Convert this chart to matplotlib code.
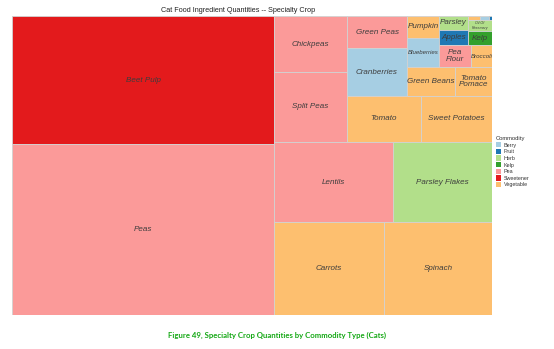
import matplotlib
matplotlib.use("Agg")
import matplotlib.pyplot as plt
from matplotlib.patches import Rectangle, Patch

# Ingredient quantities (arbitrary units) and commodity type
ingredients = ["Peas", "Beet Pulp", "Carrots", "Spinach", "Lentils", "Parsley Flakes",
               "Split Peas", "Chickpeas", "Tomato", "Sweet Potatoes", "Cranberries",
               "Green Peas", "Green Beans", "Tomato Pomace", "Blueberries", "Pumpkin",
               "Pea Flour", "Broccoli", "Apples", "Parsley", "Kelp", "Oil Of Rosemary",
               "Other Vegetable", "Other Berry", "Other Fruit"]
quantities = [44802, 33536, 10230, 10044, 9520, 7920,
              5110, 4088, 3404, 3266, 2880,
              1920, 1392, 1073, 928, 704,
              704, 462, 435, 406, 336, 264,
              48, 36, 12]
commodities = ["Pea", "Sweetener", "Vegetable", "Vegetable", "Pea", "Herb",
               "Pea", "Pea", "Vegetable", "Vegetable", "Berry",
               "Pea", "Vegetable", "Vegetable", "Berry", "Vegetable",
               "Pea", "Vegetable", "Fruit", "Herb", "Kelp", "Herb",
               "Vegetable", "Berry", "Fruit"]

commodity_order = ["Berry", "Fruit", "Herb", "Kelp", "Pea", "Sweetener", "Vegetable"]
commodity_colors = ["#a6cee3", "#1f78b4", "#b2df8a", "#33a02c", "#fb9a99", "#e31a1c", "#fdbf6f"]

# Cell text (line breaks) and reduced font sizes for narrow cells
label_text = {"Pea Flour": "Pea\nFlour", "Tomato Pomace": "Tomato\nPomace",
              "Oil Of Rosemary": "Oil Of\nRosemary"}
label_size = {"Blueberries": 4.4, "Broccoli": 4.4, "Oil Of Rosemary": 2.6}
hidden_labels = {"Other Vegetable", "Other Berry", "Other Fruit"}

# Slice-and-dice arrangement: 'h' = side by side, 'v' = stacked
tree = ("h", [
    ("v", ["Beet Pulp", "Peas"]),
    ("v", [
        ("h", [
            ("v", ["Chickpeas", "Split Peas"]),
            ("v", [
                ("h", [
                    ("v", ["Green Peas", "Cranberries"]),
                    ("v", [
                        ("h", [
                            ("v", ["Pumpkin", "Blueberries"]),
                            ("v", [
                                ("h", [
                                    ("v", ["Parsley", "Apples"]),
                                    ("v", [("h", ["Other Vegetable", "Other Berry", "Other Fruit"]),
                                           "Oil Of Rosemary", "Kelp"]),
                                ]),
                                ("h", ["Pea Flour", "Broccoli"]),
                            ]),
                        ]),
                        ("h", ["Green Beans", "Tomato Pomace"]),
                    ]),
                ]),
                ("h", ["Tomato", "Sweet Potatoes"]),
            ]),
        ]),
        ("h", ["Lentils", "Parsley Flakes"]),
        ("h", ["Carrots", "Spinach"]),
    ]),
])

value_of = dict(zip(ingredients, quantities))
color_of = dict(zip(commodity_order, commodity_colors))
comm_of = dict(zip(ingredients, commodities))


def total(node):
    if isinstance(node, str):
        return value_of[node]
    return sum(total(c) for c in node[1])


def layout(node, x, y, w, h, out):
    if isinstance(node, str):
        out.append((node, x, y, w, h))
        return
    direction, children = node
    s = float(total(node))
    pos = 0.0
    for c in children:
        frac = total(c) / s
        if direction == "h":
            layout(c, x + pos * w, y, w * frac, h, out)
        else:
            layout(c, x, y + pos * h, w, h * frac, out)
        pos += frac


cells = []
layout(tree, 0.0, 0.0, 1.0, 1.0, cells)

W, H = 554, 349
fig = plt.figure(figsize=(W / 100, H / 100), dpi=100)
fig.patch.set_facecolor("white")
ax = fig.add_axes([12 / W, (H - 315) / H, 480 / W, 299 / H])
ax.set_xlim(0, 1)
ax.set_ylim(1, 0)
ax.axis("off")

for name, x, y, w, h in cells:
    ax.add_patch(Rectangle((x, y), w, h, facecolor=color_of[comm_of[name]],
                           edgecolor="#d2d2d2", linewidth=0.6))
    if name in hidden_labels:
        continue
    ax.text(x + w / 2, y + h / 2, label_text.get(name, name),
            ha="center", va="center", style="italic",
            fontsize=label_size.get(name, 5.8), color="#3d3d3d",
            family="Liberation Sans", linespacing=1.0)

fig.text(238 / W, 1 - 10 / H, "Cat Food Ingredient Quantities -- Specialty Crop",
         ha="center", va="center", fontsize=5.2, color="#222222",
         family="Liberation Sans")

fig.text(277 / W, 1 - 335 / H,
         "Figure 49, Specialty Crop Quantities by Commodity Type (Cats)",
         ha="center", va="center", fontsize=5.6, fontweight="bold",
         color="#14a814", family="Lato")

handles = [Patch(facecolor=c, edgecolor="none", label=n)
           for n, c in zip(commodity_order, commodity_colors)]
leg = fig.legend(handles=handles, title="Commodity", loc="upper left",
                 bbox_to_anchor=(496 / W, 1 - 136 / H), frameon=False,
                 fontsize=3.9, title_fontsize=4.2, handlelength=1.0,
                 handleheight=1.1, labelspacing=0.22, handletextpad=0.45,
                 borderpad=0, borderaxespad=0, alignment="left",
                 prop={"family": "Liberation Sans", "size": 3.9})
leg.get_title().set_family("Liberation Sans")
leg.get_title().set_color("#333333")
for t in leg.get_texts():
    t.set_color("#333333")

fig.savefig("out.png", dpi=100)
